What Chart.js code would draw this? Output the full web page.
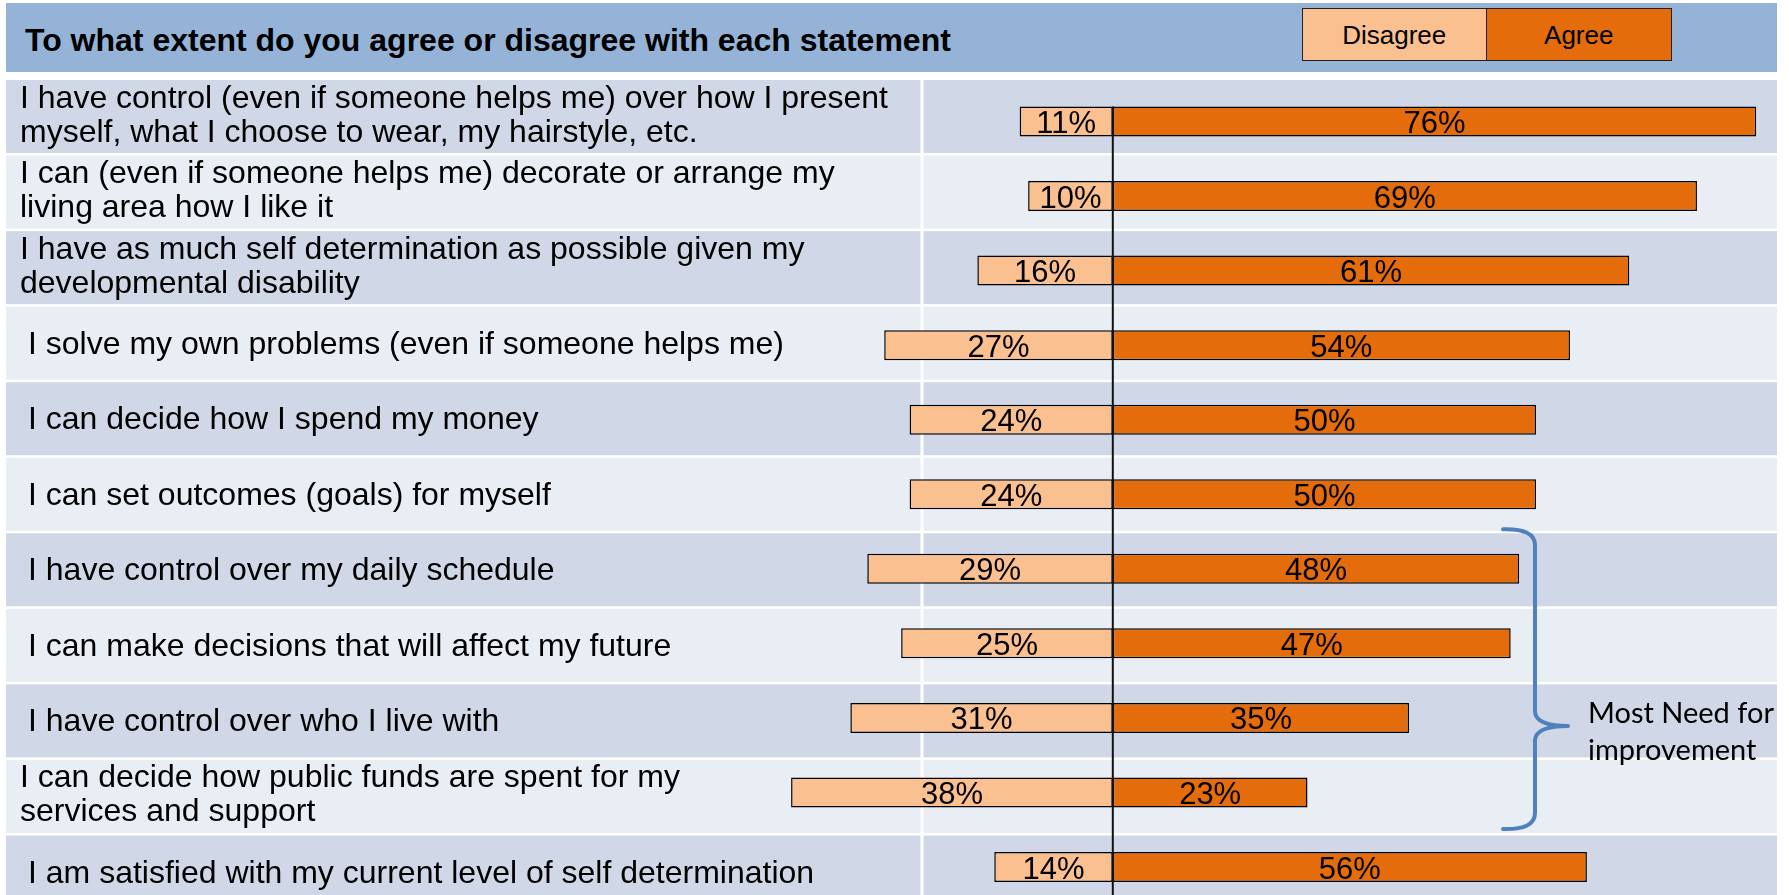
<!DOCTYPE html>
<html>
<head>
<meta charset="utf-8">
<script src="https://cdn.jsdelivr.net/npm/chart.js@4.4.1/dist/chart.umd.min.js"></script>
<style>
html,body{margin:0;padding:0;width:1789px;height:895px;overflow:hidden;background:#fff;}
#wrap{position:absolute;left:0;top:0;width:1789px;height:910px;}
#hdr{position:absolute;left:6px;top:3px;width:1771px;height:69px;background:#95B3D7;}
#title{position:absolute;left:19px;top:22px;font:bold 32px "Liberation Sans",Arial,sans-serif;line-height:31px;color:#000;white-space:nowrap;}
#legend{position:absolute;left:1295.5px;top:5.3px;width:370px;height:52.4px;display:flex;border:1.5px solid #222;box-sizing:border-box;}
#legend div{flex:1;display:flex;align-items:center;justify-content:center;font:26px "Liberation Sans",Arial,sans-serif;color:#000;padding-top:3px;box-sizing:border-box;}
#legend div + div{border-left:1.5px solid #222;}
canvas{position:absolute;left:0;top:0;}
</style>
</head>
<body>
<div id="wrap">
  <div id="hdr"><div id="title"></div><div id="legend"></div></div>
  <canvas id="c" width="1789" height="910"></canvas>
</div>
<script>
const titleText = 'To what extent do you agree or disagree with each statement';
const categories = [
  ['I have control (even if someone helps me) over how I present', 'myself, what I choose to wear, my hairstyle, etc.'],
  ['I can (even if someone helps me) decorate or arrange my', 'living area how I like it'],
  ['I have as much self determination as possible given my', 'developmental disability'],
  ['I solve my own problems (even if someone helps me)'],
  ['I can decide how I spend my money'],
  ['I can set outcomes (goals) for myself'],
  ['I have control over my daily schedule'],
  ['I can make decisions that will affect my future'],
  ['I have control over who I live with'],
  ['I can decide how public funds are spent for my', 'services and support'],
  ['I am satisfied with my current level of self determination']
];
const seriesNames = ['Disagree', 'Agree'];
const disagree = [11, 10, 16, 27, 24, 24, 29, 25, 31, 38, 14];
const agree = [76, 69, 61, 54, 50, 50, 48, 47, 35, 23, 56];
const seriesColors = ['#FAC090', '#E46C0A'];
const bracketText = ['Most Need for', 'improvement'];
const bracketFirst = 6, bracketLast = 9;

document.getElementById('title').textContent = titleText;
const lg = document.getElementById('legend');
seriesNames.forEach((n, i) => {
  const d = document.createElement('div');
  d.textContent = n;
  d.style.background = seriesColors[i];
  lg.appendChild(d);
});

const ROW_TOP = 80, ROW_PITCH = 75.55, ROW_H = 73;
const rowBg = ['#D0D8E8', '#E9EDF4'];
const LABEL_FONT = '32px "Liberation Sans", Arial, sans-serif';
const VALUE_FONT = '31px "Liberation Sans", Arial, sans-serif';

const decor = {
  id: 'decor',
  beforeDatasetsDraw(chart) {
    const ctx = chart.ctx;
    ctx.save();
    categories.forEach((lines, i) => {
      ctx.fillStyle = rowBg[i % 2];
      ctx.fillRect(6, ROW_TOP + i * ROW_PITCH, 1771, ROW_H);
    });
    ctx.fillStyle = '#ffffff';
    ctx.fillRect(920.5, ROW_TOP, 3, categories.length * ROW_PITCH);
    ctx.fillStyle = '#000';
    ctx.font = LABEL_FONT;
    ctx.textAlign = 'left';
    ctx.textBaseline = 'alphabetic';
    categories.forEach((lines, i) => {
      const c = ROW_TOP + i * ROW_PITCH + ROW_H / 2;
      if (lines.length === 1) {
        ctx.fillText(lines[0], 28, c + 10.5);
      } else {
        ctx.fillText(lines[0], 20, c - 9);
        ctx.fillText(lines[1], 20, c + 25);
      }
    });
    ctx.restore();
  },
  afterDatasetsDraw(chart) {
    const ctx = chart.ctx;
    const xs = chart.scales.x;
    const x0 = xs.getPixelForValue(0);
    const first = chart.getDatasetMeta(0).data[0];
    ctx.save();
    // zero line
    ctx.strokeStyle = '#111';
    ctx.lineWidth = 2;
    ctx.beginPath();
    ctx.moveTo(x0, first.y - first.height / 2);
    ctx.lineTo(x0, chart.height);
    ctx.stroke();
    // value labels
    ctx.fillStyle = '#000';
    ctx.font = VALUE_FONT;
    ctx.textAlign = 'center';
    ctx.textBaseline = 'alphabetic';
    chart.data.datasets.forEach((ds, di) => {
      chart.getDatasetMeta(di).data.forEach((el, i) => {
        const v = Math.abs(ds.data[i]);
        ctx.fillText(v + '%', (el.x + el.base) / 2, el.y + 11.5);
      });
    });
    // bracket
    const bt = ROW_TOP + bracketFirst * ROW_PITCH - 4;
    const bb = ROW_TOP + bracketLast * ROW_PITCH + ROW_H - 4;
    const tipY = ROW_TOP + (bracketLast - 1) * ROW_PITCH + ROW_H / 2 + 5;
    const bx0 = 1503, bx1 = 1535, tipX = 1568;
    ctx.strokeStyle = '#4F81BD';
    ctx.lineWidth = 4;
    ctx.lineCap = 'round';
    ctx.lineJoin = 'round';
    ctx.beginPath();
    ctx.moveTo(bx0, bt);
    ctx.quadraticCurveTo(bx1, bt - 1, bx1, bt + 16);
    ctx.lineTo(bx1, tipY - 14);
    ctx.quadraticCurveTo(bx1 + 1, tipY, tipX, tipY);
    ctx.moveTo(tipX, tipY);
    ctx.quadraticCurveTo(bx1 + 1, tipY, bx1, tipY + 14);
    ctx.lineTo(bx1, bb - 16);
    ctx.quadraticCurveTo(bx1, bb + 1, bx0, bb);
    ctx.stroke();
    ctx.fillStyle = '#000';
    ctx.font = '29px Lato, "Open Sans", sans-serif';
    ctx.textAlign = 'left';
    ctx.fillText(bracketText[0], 1588, tipY - 3);
    ctx.fillText(bracketText[1], 1588, tipY + 34);
    ctx.restore();
  }
};

const ZERO_X = 1112.8, PX_PER_PCT = 8.466;
new Chart(document.getElementById('c'), {
  type: 'bar',
  data: {
    labels: categories,
    datasets: [
      { label: seriesNames[0], data: disagree.map(v => -v), backgroundColor: seriesColors[0] },
      { label: seriesNames[1], data: agree, backgroundColor: seriesColors[1] }
    ]
  },
  options: {
    indexAxis: 'y',
    responsive: false,
    animation: false,
    events: [],
    layout: { padding: { top: 84.2, bottom: 5.7, left: 0, right: 0 } },
    datasets: {
      bar: {
        borderColor: '#000',
        borderWidth: 1.5,
        borderSkipped: false,
        barPercentage: 0.402,
        categoryPercentage: 1
      }
    },
    scales: {
      x: { display: false, stacked: true, min: -ZERO_X / PX_PER_PCT, max: (1789 - ZERO_X) / PX_PER_PCT },
      y: { display: false, stacked: true }
    },
    plugins: { legend: { display: false }, tooltip: { enabled: false }, title: { display: false } }
  },
  plugins: [decor]
});
</script>
</body>
</html>
